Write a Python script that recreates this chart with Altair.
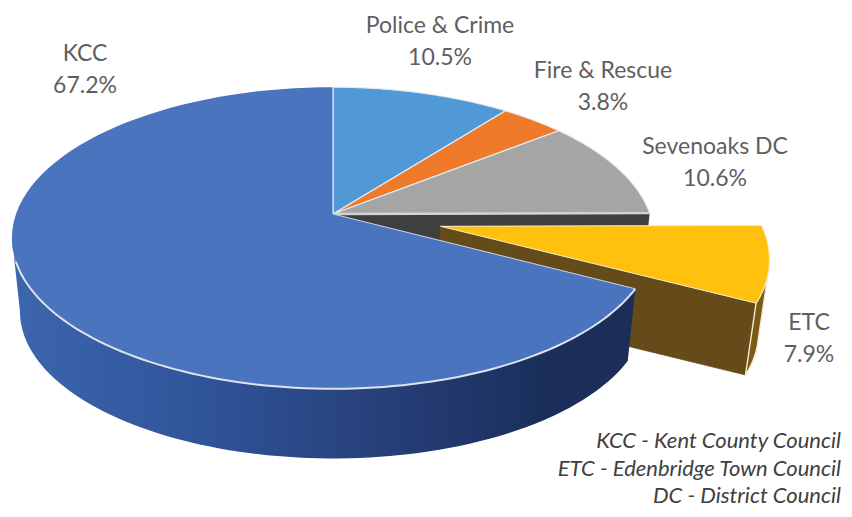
import numpy as np
import pandas as pd
import altair as alt

names = ["Police & Crime", "Fire & Rescue", "Sevenoaks DC", "ETC", "KCC"]
shares = [10.5, 3.8, 10.6, 7.9, 67.2]
top_colors = ["#5199d6", "#ef7b2a", "#a5a5a5", "#ffc10e", "#4a74bd"]
label_x = [440, 603, 715, 809, 85]
label_y = [26, 71, 147, 323, 54]
notes = ["KCC - Kent County Council", "ETC - Edenbridge Town Council", "DC - District Council"]
note_y = [441, 469, 496]

CX, CY, A, B, K = 333.0, 214.0, 317.0, 147.0, 0.159
BOTTOM_Y, BOTTOM_S = 288.0, 0.975
EXPLODE = 0.345

scale_x = alt.Scale(domain=[8, 844])
scale_y = alt.Scale(domain=[509, 8])
edges = np.radians(np.concatenate([[0], np.cumsum(shares)]) * 3.6)


def project(t, offset=0.0, mid=0.0, bottom=False):
    X = np.sin(t) + offset * np.sin(mid)
    Z = np.cos(t) + offset * np.cos(mid)
    den = 1 + K * Z
    if bottom:
        return CX + BOTTOM_S * A * X / den, BOTTOM_Y - BOTTOM_S * B * Z / den
    return CX + A * X / den, CY - B * Z / den


def apex(offset=0.0, mid=0.0, bottom=False):
    X = offset * np.sin(mid)
    Z = offset * np.cos(mid)
    den = 1 + K * Z
    if bottom:
        return CX + BOTTOM_S * A * X / den, BOTTOM_Y - BOTTOM_S * B * Z / den
    return CX + A * X / den, CY - B * Z / den


def arc(t0, t1, **kw):
    t = np.linspace(t0, t1, 90)
    x, y = project(t, **kw)
    return list(zip(x, y))


def shape(points, fill, stroke=None, width=0.0):
    pts = list(points) + [points[0]]
    df = pd.DataFrame(pts, columns=["x", "y"])
    df["i"] = range(len(df))
    kw = dict(fill=fill, strokeJoin="round", clip=False)
    kw["stroke"] = stroke if stroke else "transparent"
    kw["strokeWidth"] = width
    return alt.Chart(df).mark_line(**kw).encode(
        x=alt.X("x:Q", scale=scale_x, axis=None),
        y=alt.Y("y:Q", scale=scale_y, axis=None),
        order="i:Q",
    )


def open_line(points, color, width):
    df = pd.DataFrame(points, columns=["x", "y"])
    df["i"] = range(len(df))
    return alt.Chart(df).mark_line(color=color, strokeWidth=width).encode(
        x=alt.X("x:Q", scale=scale_x, axis=None),
        y=alt.Y("y:Q", scale=scale_y, axis=None),
        order="i:Q",
    )


layers = []
edge_light = "#e6ebf2"

# back wall beneath the grey slice
t_sev = edges[3]
p_top = project(t_sev)
p_bot = project(t_sev, bottom=True)
layers.append(shape([apex(), p_top, p_bot, apex(bottom=True)], "#3f3f3f"))

# flat slices at the back
for i in range(3):
    pts = [apex()] + arc(edges[i], edges[i + 1])
    layers.append(shape(pts, top_colors[i], edge_light, 1.2))
layers.append(open_line([apex(), p_top], "#d4d4d4", 2.4))

# exploded ETC slice
m = (edges[3] + edges[4]) / 2
kw = dict(offset=EXPLODE, mid=m)
corner_top = project(edges[4], **kw)
corner_bot = project(edges[4], bottom=True, **kw)
layers.append(shape([apex(**kw), corner_top, corner_bot, apex(bottom=True, **kw)], "#664b1a", "#6d5420", 0.8))
t_side = np.radians(105)
side = arc(edges[4], t_side, **kw)
side_b = arc(t_side, edges[4], bottom=True, **kw)
layers.append(shape(side + side_b, "#7a5a14", "#f3ead2", 1.4))
layers.append(shape([apex(**kw)] + arc(edges[3], edges[4], **kw), top_colors[3], "#f7edc9", 1.0))

# KCC wall and face
grad = alt.LinearGradient(
    gradient="linear", x1=0, x2=1, y1=0, y2=0,
    stops=[
        alt.GradientStop(offset=0, color="#3c66ad"),
        alt.GradientStop(offset=0.3, color="#30549a"),
        alt.GradientStop(offset=0.6, color="#263f78"),
        alt.GradientStop(offset=0.85, color="#1b2f5c"),
        alt.GradientStop(offset=1, color="#1b2e58"),
    ],
)
t_end = np.radians(261)
wall = arc(edges[4], t_end) + arc(t_end, edges[4], bottom=True)
layers.append(shape(wall, grad))
layers.append(shape([apex()] + arc(edges[4], edges[5]), top_colors[4]))
layers.append(open_line(arc(edges[4], np.radians(252)), "#dde4ee", 2.0))
layers.append(open_line([apex(), project(edges[4])], "#c9d6ea", 1.0))
layers.append(open_line([apex(), project(edges[5])], "#dbe6f3", 1.2))

# labels
label_rows = []
for n, s, x, y in zip(names, shares, label_x, label_y):
    label_rows.append({"x": x, "y": y, "t": n})
    label_rows.append({"x": x, "y": y + 32, "t": f"{s:.1f}%"})
layers.append(
    alt.Chart(pd.DataFrame(label_rows))
    .mark_text(font="Lato", fontSize=23, color="#5f5f5f", align="center", baseline="middle")
    .encode(x=alt.X("x:Q", scale=scale_x, axis=None), y=alt.Y("y:Q", scale=scale_y, axis=None), text="t:N")
)
layers.append(
    alt.Chart(pd.DataFrame({"t": notes, "y": note_y, "x": [841] * 3}))
    .mark_text(font="Lato", fontSize=22, fontStyle="italic", color="#404040", align="right", baseline="middle")
    .encode(x=alt.X("x:Q", scale=scale_x, axis=None), y=alt.Y("y:Q", scale=scale_y, axis=None), text="t:N")
)

chart = (
    alt.layer(*layers)
    .properties(width=836, height=501, padding=0, autosize=alt.AutoSizeParams(type="none"))
    .configure_view(stroke=None)
)
chart.save("out.html", embed_options={"renderer": "svg", "actions": False})
